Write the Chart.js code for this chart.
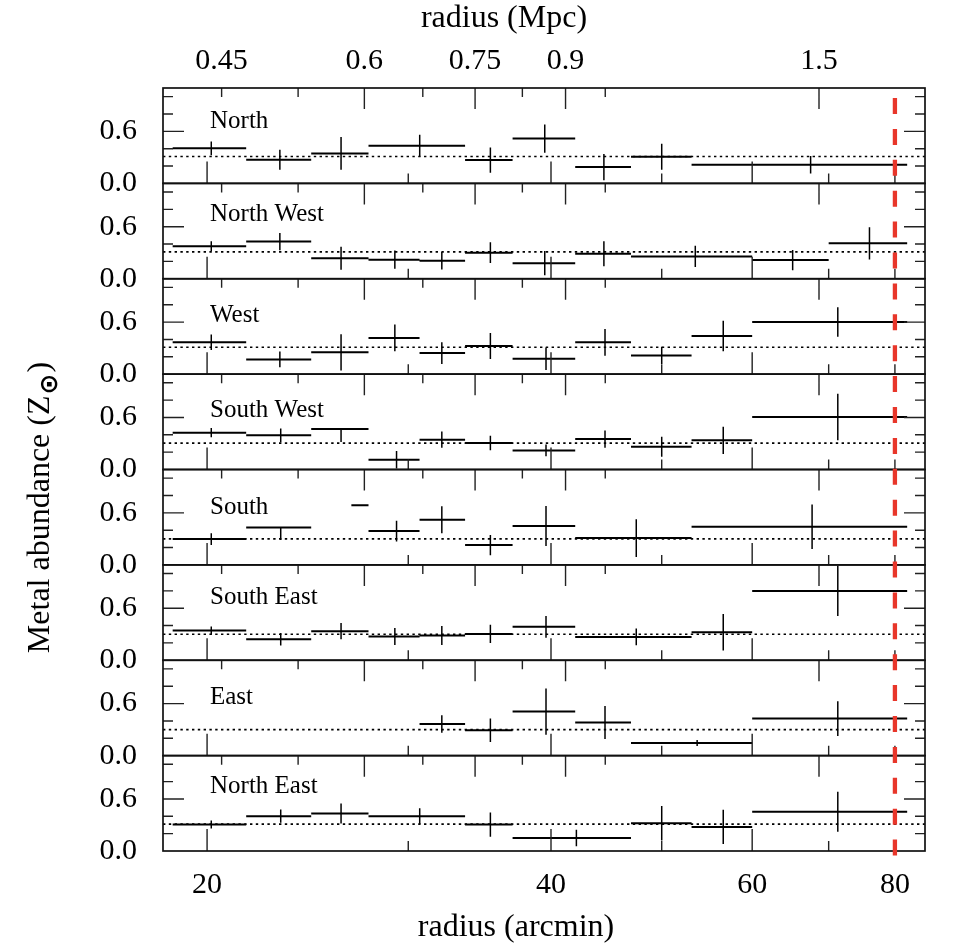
<!DOCTYPE html>
<html>
<head>
<meta charset="utf-8">
<script src="https://cdn.jsdelivr.net/npm/chart.js@4.4.1/dist/chart.umd.min.js"></script>
<style>
html,body{margin:0;padding:0;background:#fff;}
#wrap{width:958px;height:948px;position:relative;}
</style>
</head>
<body>
<div id="wrap"><canvas id="c"></canvas></div>
<script>
// ---------- data ----------
const panelNames = ['North', 'North West', 'West', 'South West', 'South', 'South East', 'East', 'North East'];

// each row: [bin start (arcmin), bin end (arcmin), error-bar position (arcmin), Z, error minus, error plus]
const north = [
  [18.66, 21.64, 20.17, 0.404, 0.080, 0.080],
  [21.64, 24.67, 23.16, 0.273, 0.115, 0.115],
  [24.67, 27.69, 26.20, 0.346, 0.190, 0.190],
  [27.69, 33.64, 30.70, 0.435, 0.125, 0.125],
  [33.64, 37.02, 35.40, 0.269, 0.146, 0.146],
  [37.02, 42.00, 39.50, 0.517, 0.163, 0.163],
  [42.00, 47.00, 44.50, 0.188, 0.151, 0.151],
  [47.00, 53.10, 50.00, 0.307, 0.150, 0.150],
  [53.10, 82.00, 67.50, 0.215, 0.100, 0.100]
];
const northWest = [
  [18.66, 21.64, 20.17, 0.375, 0.058, 0.058],
  [21.64, 24.67, 23.16, 0.429, 0.100, 0.100],
  [24.67, 27.69, 26.20, 0.236, 0.133, 0.133],
  [27.69, 30.69, 29.20, 0.220, 0.106, 0.106],
  [30.69, 33.64, 32.10, 0.208, 0.100, 0.100],
  [33.64, 37.02, 35.40, 0.301, 0.120, 0.120],
  [37.02, 42.00, 39.50, 0.180, 0.140, 0.140],
  [42.00, 47.00, 44.50, 0.288, 0.144, 0.144],
  [47.00, 60.00, 53.50, 0.258, 0.123, 0.123],
  [60.00, 70.00, 65.10, 0.215, 0.117, 0.117],
  [70.00, 82.00, 76.00, 0.408, 0.187, 0.187]
];
const west = [
  [18.66, 21.64, 20.17, 0.367, 0.090, 0.090],
  [21.64, 24.67, 23.16, 0.170, 0.090, 0.090],
  [24.67, 27.69, 26.20, 0.251, 0.210, 0.210],
  [27.69, 30.69, 29.20, 0.417, 0.154, 0.154],
  [30.69, 33.64, 32.10, 0.243, 0.125, 0.125],
  [33.64, 37.02, 35.40, 0.324, 0.150, 0.150],
  [37.02, 42.00, 39.60, 0.178, 0.130, 0.130],
  [42.00, 47.00, 44.60, 0.367, 0.154, 0.154],
  [47.00, 53.10, 50.00, 0.216, 0.100, 0.100],
  [53.10, 60.00, 56.60, 0.440, 0.176, 0.176],
  [60.00, 82.00, 71.30, 0.602, 0.170, 0.170]
];
const southWest = [
  [18.66, 21.64, 20.17, 0.425, 0.054, 0.054],
  [21.64, 24.67, 23.20, 0.394, 0.080, 0.080],
  [24.67, 27.69, 26.20, 0.467, 0.150, 0.000],
  [27.69, 30.69, 29.30, 0.112, 0.100, 0.100],
  [30.69, 33.64, 32.10, 0.344, 0.093, 0.093],
  [33.64, 37.02, 35.40, 0.305, 0.083, 0.083],
  [37.02, 42.00, 39.60, 0.220, 0.068, 0.068],
  [42.00, 47.00, 44.60, 0.351, 0.100, 0.100],
  [47.00, 53.10, 50.00, 0.263, 0.116, 0.116],
  [53.10, 60.00, 56.60, 0.336, 0.158, 0.158],
  [60.00, 82.00, 71.30, 0.606, 0.268, 0.268]
];
const south = [
  [18.66, 21.64, 20.17, 0.297, 0.068, 0.068],
  [21.64, 24.67, 23.20, 0.432, 0.145, 0.000],
  [26.75, 27.69, 27.20, 0.687, 0.000, 0.000],
  [27.69, 30.69, 29.30, 0.390, 0.120, 0.120],
  [30.69, 33.64, 32.10, 0.521, 0.156, 0.156],
  [33.64, 37.02, 35.40, 0.228, 0.116, 0.116],
  [37.02, 42.00, 39.60, 0.448, 0.230, 0.230],
  [42.00, 53.10, 47.50, 0.309, 0.218, 0.218],
  [53.10, 82.00, 67.70, 0.440, 0.257, 0.257]
];
const southEast = [
  [18.66, 21.64, 20.17, 0.342, 0.048, 0.048],
  [21.64, 24.67, 23.20, 0.242, 0.071, 0.071],
  [24.67, 27.69, 26.20, 0.335, 0.094, 0.094],
  [27.69, 30.69, 29.20, 0.273, 0.098, 0.098],
  [30.69, 33.64, 32.10, 0.285, 0.110, 0.110],
  [33.64, 37.02, 35.40, 0.304, 0.106, 0.106],
  [37.02, 42.00, 39.60, 0.385, 0.125, 0.125],
  [42.00, 53.10, 47.50, 0.269, 0.096, 0.096],
  [53.10, 60.00, 56.60, 0.323, 0.210, 0.210],
  [60.00, 82.00, 71.30, 0.800, 0.290, 0.290]
];
const east = [
  [30.69, 33.64, 32.10, 0.365, 0.100, 0.100],
  [33.64, 37.02, 35.40, 0.292, 0.135, 0.135],
  [37.02, 42.00, 39.60, 0.508, 0.267, 0.267],
  [42.00, 47.00, 44.60, 0.381, 0.190, 0.190],
  [47.00, 60.00, 53.70, 0.146, 0.035, 0.035],
  [60.00, 82.00, 71.30, 0.427, 0.200, 0.200]
];
const northEast = [
  [18.66, 21.64, 20.17, 0.305, 0.046, 0.046],
  [21.64, 24.67, 23.20, 0.402, 0.077, 0.077],
  [24.67, 27.69, 26.20, 0.432, 0.116, 0.116],
  [27.69, 33.64, 30.70, 0.402, 0.090, 0.090],
  [33.64, 37.02, 35.40, 0.305, 0.140, 0.140],
  [37.02, 47.00, 42.10, 0.151, 0.095, 0.095],
  [47.00, 53.10, 50.00, 0.320, 0.200, 0.200],
  [53.10, 60.00, 56.60, 0.278, 0.197, 0.197],
  [60.00, 82.00, 71.30, 0.452, 0.230, 0.230]
];
const panelData = [north, northWest, west, southWest, south, southEast, east, northEast];

// dotted reference level in each panel
const solarLevel = [0.31, 0.31, 0.31, 0.305, 0.30, 0.30, 0.30, 0.31];

// axes
const xRange = [18.3, 85];
const xTickLabels = [20, 40, 60, 80];
const xLongTicks = [20, 40, 60];
const xShortTicks = [30, 50, 70, 80];
const mpcPerArcmin = 0.02185;
const topTickLabels = [0.45, 0.6, 0.75, 0.9, 1.5];
const topLongTicks = [0.6, 0.75, 0.9, 1.5];
const topShortTicks = [0.45, 0.525, 0.675, 0.825, 0.975];
const yRange = [0, 1.1];
const yTickLabels = [0.0, 0.6];
const yTickMarks = [0.2, 0.4, 0.6, 0.8, 1.0];
const r500Arcmin = 80;

const xTitle = 'radius (arcmin)';
const topTitle = 'radius (Mpc)';
const yTitleMain = 'Metal abundance (Z';
const yTitleSub = '\u2299';
const yTitleEnd = ')';

// ---------- styling ----------
const SERIF = '"Liberation Serif", "Times New Roman", serif';
const labelDy = [40, 38, 43, 43, 44, 39, 44, 37];

function binBars(rows) {
  const pts = [];
  rows.forEach(([lo, hi, xc, z]) => { pts.push({x: lo, y: z}, {x: hi, y: z}, {x: xc, y: null}); });
  return pts;
}
function errorBars(rows) {
  const pts = [];
  rows.forEach(([lo, hi, xc, z, em, ep]) => {
    if (em + ep > 0) pts.push({x: xc, y: z - em}, {x: xc, y: z + ep}, {x: xc, y: null});
  });
  return pts;
}

const datasets = [];
panelData.forEach((rows, i) => {
  datasets.push({
    xAxisID: 'x', yAxisID: 'y' + i,
    data: [{x: xRange[0], y: solarLevel[i]}, {x: xRange[1], y: solarLevel[i]}],
    borderColor: '#000', borderWidth: 1.7, borderDash: [2.4, 3.4],
    pointRadius: 0, fill: false
  });
  datasets.push({
    xAxisID: 'x', yAxisID: 'y' + i,
    data: binBars(rows),
    borderColor: '#000', borderWidth: 2.0, borderCapStyle: 'butt',
    pointRadius: 0, spanGaps: false, fill: false
  });
  datasets.push({
    xAxisID: 'x', yAxisID: 'y' + i,
    data: errorBars(rows),
    borderColor: '#000', borderWidth: 1.5, borderCapStyle: 'butt',
    pointRadius: 0, spanGaps: false, fill: false
  });
});

const tickFont = {family: SERIF, size: 30};
const scales = {
  x: {
    type: 'logarithmic', position: 'bottom',
    min: xRange[0], max: xRange[1],
    grid: {display: false, drawTicks: false}, border: {display: false},
    afterBuildTicks: s => { s.ticks = xTickLabels.map(v => ({value: v})); },
    ticks: {callback: v => String(v), color: '#000', font: tickFont, padding: 16, maxRotation: 0, autoSkip: false},
    title: {display: false, text: xTitle},
    afterFit: s => { s.height = 97; }
  },
  x2: {
    type: 'logarithmic', axis: 'x', position: 'top',
    min: xRange[0] * mpcPerArcmin, max: xRange[1] * mpcPerArcmin,
    grid: {display: false, drawTicks: false}, border: {display: false},
    afterBuildTicks: s => { s.ticks = topTickLabels.map(v => ({value: v})); },
    ticks: {callback: v => String(v), color: '#000', font: tickFont, padding: 9, maxRotation: 0, autoSkip: false},
    title: {display: false, text: topTitle},
    afterFit: s => { s.height = 88; }
  }
};
panelNames.forEach((n, i) => {
  scales['y' + i] = {
    type: 'linear', position: 'left', stack: 'panels', stackWeight: 1, weight: 8 - i,
    min: yRange[0], max: yRange[1],
    grid: {display: false, drawTicks: false}, border: {display: false},
    afterBuildTicks: s => { s.ticks = yTickLabels.map(v => ({value: v})); },
    ticks: {callback: v => Number(v).toFixed(1), color: '#000', font: tickFont, padding: 26, autoSkip: false},
    afterFit: s => { s.width = 163; }
  };
});

const decor = {
  id: 'decor',
  afterDatasetsDraw(chart) {
    const ctx = chart.ctx;
    const xs = chart.scales.x, xt = chart.scales.x2;
    const area = chart.chartArea;
    const L = area.left, R = area.right;
    const midX = (L + R) / 2;
    ctx.save();
    ctx.setLineDash([]);
    panelNames.forEach((name, i) => {
      const ys = chart.scales['y' + i];
      const T = ys.top, B = ys.bottom;
      ctx.strokeStyle = '#222';
      ctx.lineWidth = 1.4;
      ctx.beginPath();
      yTickMarks.forEach(v => {
        const len = yTickLabels.includes(v) ? 21 : 10;
        const py = ys.getPixelForValue(v);
        ctx.moveTo(L, py); ctx.lineTo(L + len, py);
        ctx.moveTo(R, py); ctx.lineTo(R - len, py);
      });
      xLongTicks.forEach(v => { const px = xs.getPixelForValue(v); ctx.moveTo(px, B); ctx.lineTo(px, B - 22); });
      xShortTicks.forEach(v => { const px = xs.getPixelForValue(v); ctx.moveTo(px, B); ctx.lineTo(px, B - 10); });
      topLongTicks.forEach(v => { const px = xt.getPixelForValue(v); ctx.moveTo(px, T); ctx.lineTo(px, T + 21); });
      topShortTicks.forEach(v => { const px = xt.getPixelForValue(v); ctx.moveTo(px, T); ctx.lineTo(px, T + 9); });
      ctx.stroke();
      ctx.lineWidth = 1.7;
      ctx.strokeStyle = '#111';
      ctx.strokeRect(L, T, R - L, B - T);
      ctx.fillStyle = '#000';
      ctx.font = '25px ' + SERIF;
      ctx.textAlign = 'left';
      ctx.textBaseline = 'alphabetic';
      ctx.fillText(name, L + 47, T + labelDy[i]);
    });
    // dashed vertical line
    const px = xs.getPixelForValue(r500Arcmin);
    ctx.strokeStyle = '#e8362a';
    ctx.lineWidth = 4.3;
    ctx.setLineDash([16, 14.9]);
    ctx.beginPath();
    ctx.moveTo(px, area.top + 10);
    ctx.lineTo(px, area.bottom + 7);
    ctx.stroke();
    ctx.setLineDash([]);
    // axis titles
    ctx.fillStyle = '#000';
    ctx.textBaseline = 'alphabetic';
    ctx.textAlign = 'center';
    ctx.font = '32px ' + SERIF;
    ctx.fillText(topTitle, midX - 40, 27);
    ctx.fillText(xTitle, midX - 28, area.bottom + 85);
    // y title with subscript
    const mainFont = '32px ' + SERIF;
    const subFont = 'bold 25px "DejaVu Sans", sans-serif';
    ctx.font = mainFont; const w1 = ctx.measureText(yTitleMain).width; const w3 = ctx.measureText(yTitleEnd).width;
    ctx.font = subFont; const w2 = ctx.measureText(yTitleSub).width;
    const total = w1 + w2 + w3 + 2;
    const cy = (area.top + area.bottom) / 2 + 38;
    ctx.translate(49, cy + total / 2);
    ctx.rotate(-Math.PI / 2);
    ctx.textAlign = 'left';
    ctx.font = mainFont; ctx.fillText(yTitleMain, 0, 0);
    ctx.font = subFont; ctx.fillText(yTitleSub, w1 + 1, 8);
    ctx.font = mainFont; ctx.fillText(yTitleEnd, w1 + w2 + 2, 0);
    ctx.restore();
  }
};

Chart.defaults.color = '#000';
new Chart(document.getElementById('c'), {
  type: 'line',
  data: {datasets},
  options: {
    responsive: true,
    maintainAspectRatio: false,
    animation: false,
    layout: {padding: {left: 0, right: 33, top: 0, bottom: 0}},
    plugins: {legend: {display: false}, tooltip: {enabled: false}, title: {display: false}},
    scales
  },
  plugins: [decor]
});
</script>
</body>
</html>
